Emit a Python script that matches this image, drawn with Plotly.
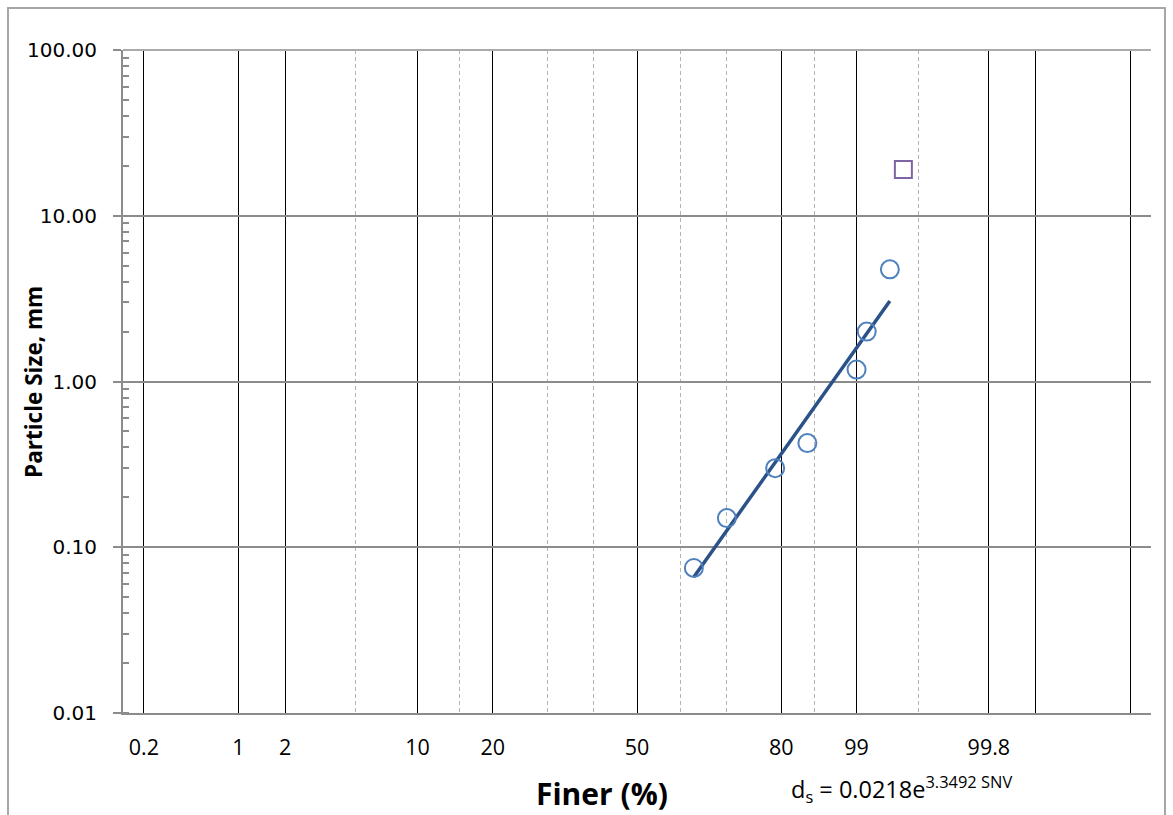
import numpy as np
import plotly.graph_objects as go
from statistics import NormalDist

# ---- data ----
finer_pct = [63, 70, 79, 84, 90, 91, 93]          # % finer
size_mm = [0.075, 0.15, 0.3, 0.425, 1.18, 2.0, 4.75]
outlier_pct = [94]
outlier_mm = [19.0]

major_grid_pct = [0.2, 1, 2, 10, 20, 50, 80, 90, 98, 99, 99.8]
major_grid_text = ["0.2", "1", "2", "10", "20", "50", "80", "99", "99.8", " ", " "]
minor_grid_pct = [5, 15, 30, 40, 60, 70, 85, 95]

y_tickvals = [0.01, 0.1, 1, 10, 100]
y_ticktext = ["0.01", "0.10", "1.00", "10.00", "100.00"]

trend_a = 0.0218
trend_b = 3.3492

nd = NormalDist()


def snv(p):
    return nd.inv_cdf(p / 100.0)


x_pts = [snv(p) for p in finer_pct]
x_out = [snv(p) for p in outlier_pct]
x_major = [snv(p) for p in major_grid_pct]
x_minor = [snv(p) for p in minor_grid_pct]

x_trend = np.linspace(min(x_pts), max(x_pts), 30)
y_trend = trend_a * np.exp(trend_b * x_trend)

fig = go.Figure()
fig.add_trace(go.Scatter(
    x=x_trend, y=y_trend, mode="lines",
    line=dict(color="#2A5289", width=3.5),
    hoverinfo="skip"))
fig.add_trace(go.Scatter(
    x=x_pts, y=size_mm, mode="markers",
    marker=dict(symbol="circle-open", size=18, color="#4F81BD",
                line=dict(width=2, color="#4F81BD"))))
fig.add_trace(go.Scatter(
    x=x_out, y=outlier_mm, mode="markers",
    marker=dict(symbol="square-open", size=17, color="#8064A2",
                line=dict(width=2, color="#8064A2"))))

L, R, T, B = 123, 1151, 50, 713
W, H = 1173, 815
pw, ph = R - L, B - T


def px(x):
    return (x - L) / pw


def py(y):
    return (B - y) / ph


fig.update_layout(
    width=W, height=H, autosize=False,
    margin=dict(l=L, r=W - R, t=T, b=H - B, pad=0),
    paper_bgcolor="white", plot_bgcolor="white",
    showlegend=False,
    xaxis=dict(
        range=[-3, 3], showgrid=True, gridcolor="black", gridwidth=1,
        tickmode="array", tickvals=x_major, ticktext=major_grid_text,
        ticks="", showline=True, linecolor="#8C8C8C", linewidth=2,
        zeroline=False,
        tickfont=dict(family="Open Sans", size=21.5, color="black"),
        ticklabelstandoff=14,
        minor=dict(tickmode="array", tickvals=x_minor, showgrid=True,
                   gridcolor="#B4B4B4", gridwidth=1, griddash="4px,3px",
                   ticks=""),
    ),
    yaxis=dict(
        type="log", range=[-2, 2], showgrid=True, gridcolor="#8C8C8C",
        gridwidth=2, tickmode="array", tickvals=y_tickvals,
        ticktext=y_ticktext, ticks="outside", ticklen=8, tickwidth=2,
        tickcolor="#8C8C8C", showline=True, linecolor="#8C8C8C",
        linewidth=2, zeroline=False,
        tickfont=dict(family="DejaVu Sans", size=20, color="black"),
        ticklabelstandoff=12,
        minor=dict(dtick="D1", ticks="inside", ticklen=6, tickwidth=2,
                   tickcolor="#8C8C8C", showgrid=False),
    ),
    shapes=[
        dict(type="rect", xref="paper", yref="paper",
             x0=px(8), x1=px(1165), y0=py(900), y1=py(8),
             line=dict(color="#A6A6A6", width=2), layer="below"),
        dict(type="line", xref="paper", yref="paper",
             x0=0, x1=1, y0=1, y1=1,
             line=dict(color="#ABABAB", width=2), layer="above"),
    ],
    annotations=[
        dict(text="<b>Particle Size, mm</b>", xref="paper", yref="paper",
             x=px(33), y=py(382), xanchor="center", yanchor="middle",
             textangle=-90, showarrow=False,
             font=dict(family="Open Sans", size=22.5, color="black")),
        dict(text="<b>Finer (%)</b>", xref="paper", yref="paper",
             x=px(602), y=py(793), xanchor="center", yanchor="middle",
             showarrow=False,
             font=dict(family="Open Sans", size=30, color="black")),
        dict(text="d<sub>s</sub> = 0.0218e<sup>3.3492 SNV</sup>",
             xref="paper", yref="paper",
             x=px(789), y=py(789), xanchor="left", yanchor="middle",
             showarrow=False,
             font=dict(family="Open Sans", size=23.5, color="black")),
    ],
)

fig.write_html("out.html")
